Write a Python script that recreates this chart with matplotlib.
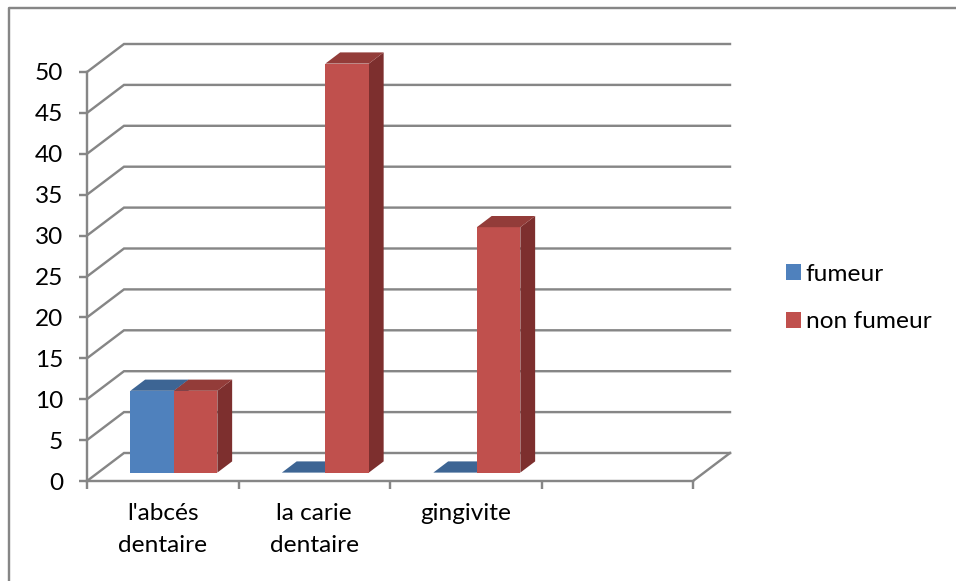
import matplotlib
matplotlib.use("Agg")
import matplotlib.pyplot as plt
from matplotlib.lines import Line2D
from matplotlib.patches import Patch, Polygon

plt.rcParams['font.family'] = ['Lato', 'DejaVu Sans']

categories = ["l'abcés\ndentaire", "la carie\ndentaire", "gingivite"]
fumeur = [10, 0, 0]
non_fumeur = [10, 50, 30]
series_names = ["fumeur", "non fumeur"]
y_ticks = list(range(0, 55, 5))

W, H = 956, 581
px = 0.72  # one pixel in points at dpi 100
GRID = "#868686"
BLUE = ("#4F81BD", "#3D6594", "#3A5F8C")
RED = ("#C0504D", "#933C39", "#7D2F2E")
FS = 17.6
LW = 2.4 * px

fig = plt.figure(figsize=(W / 100, H / 100), dpi=100, facecolor="white")
# l'axe correspond au plan avant du graphique
ax = fig.add_axes([87 / W, 1 - 481 / H, 606 / W, 409 / H])
ax.set_xlim(0, 4)
ax.set_ylim(0, 50)
ax.patch.set_visible(False)

# profondeur de la boite en unites de donnees
xu = 606 / 4
yu = 409 / 50
depth_x = 37 / xu
depth_y = 28 / yu


def poly(points, color, z):
    ax.add_patch(Polygon(points, closed=True, facecolor=color, edgecolor="none",
                         clip_on=False, zorder=z))


def bar3d(x0, width, value, colors, z):
    # la barre occupe de 30 % a 70 % de la profondeur
    fx, fy = 0.3 * depth_x, 0.3 * depth_y
    bx, by = 0.7 * depth_x, 0.7 * depth_y
    x1 = x0 + width
    if value > 0:
        poly([(x1 + fx, fy), (x1 + bx, by), (x1 + bx, value + by), (x1 + fx, value + fy)], colors[2], z)
        poly([(x0 + fx, fy), (x1 + fx, fy), (x1 + fx, value + fy), (x0 + fx, value + fy)], colors[0], z + 0.1)
    poly([(x0 + fx, value + fy), (x1 + fx, value + fy), (x1 + bx, value + by), (x0 + bx, value + by)], colors[1], z + 0.1)


# grille en perspective
for v in y_ticks:
    ax.plot([0, depth_x, 4 + depth_x], [v, v + depth_y, v + depth_y], color=GRID,
            lw=LW, clip_on=False, zorder=1, solid_joinstyle="miter")
ax.plot([4, 4 + depth_x], [0, depth_y], color=GRID, lw=LW, clip_on=False, zorder=1)

bar_w = 43.5 / xu
for i in range(len(categories)):
    c = i + 0.5
    bar3d(c - bar_w, bar_w, fumeur[i], BLUE, 3)
    bar3d(c, bar_w, non_fumeur[i], RED, 4)

for side in ["top", "right"]:
    ax.spines[side].set_visible(False)
for side in ["left", "bottom"]:
    ax.spines[side].set_color(GRID)
    ax.spines[side].set_linewidth(LW)

ax.set_yticks(y_ticks)
ax.tick_params(axis="y", length=8 * px, width=LW, color=GRID, pad=16 * px, labelsize=FS)
ax.set_xticks(range(5))
ax.set_xticklabels([])
ax.tick_params(axis="x", which="major", length=8 * px, width=LW, color=GRID)
ax.set_xticks([i + 0.5 for i in range(len(categories))], minor=True)
ax.set_xticklabels(categories, minor=True, fontsize=FS, linespacing=1.65)
ax.tick_params(axis="x", which="minor", length=0, pad=22 * px)

handles = [Patch(facecolor=BLUE[0]), Patch(facecolor=RED[0])]
fig.legend(handles, series_names, loc="center left", bbox_to_anchor=(776 / W, 1 - 298 / H),
           frameon=False, fontsize=FS, handlelength=0.62, handleheight=0.62,
           handletextpad=0.2, labelspacing=1.1, borderpad=0, borderaxespad=0.4)

# cadre exterieur
fig.add_artist(Line2D([8.5 / W, 8.5 / W, 1], [0, 1 - 7.5 / H, 1 - 7.5 / H], color=GRID, lw=LW))

fig.savefig("out.png", dpi=100)
